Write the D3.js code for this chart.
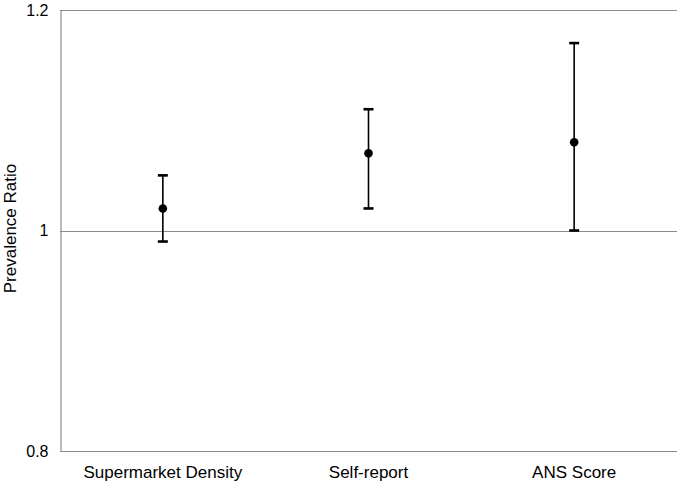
<!DOCTYPE html>
<html><head><meta charset="utf-8">
<script src="https://cdn.jsdelivr.net/npm/d3@7"></script>
<style>body{margin:0;background:#fff}svg{display:block}text{font-family:"Liberation Sans",Arial,sans-serif}</style>
</head><body><svg id="c" width="682" height="486"></svg>
<script>
const categories = ["Supermarket Density", "Self-report", "ANS Score"];
const estimates = [1.02, 1.07, 1.08];
const lowerCI = [0.99, 1.02, 1.00];
const upperCI = [1.05, 1.11, 1.17];
const yTicks = [0.8, 1, 1.2];

const svg = d3.select("#c");
const m = {left: 60, right: 5, top: 10, bottom: 35};
const W = 682, H = 486;
const x = d3.scaleBand().domain(categories).range([m.left, W - m.right]);
const y = d3.scaleLinear().domain([0.8, 1.2]).range([H - m.bottom, m.top]);

// gridlines
svg.append("g").selectAll("line").data(yTicks).join("line")
  .attr("x1", m.left).attr("x2", W - m.right)
  .attr("y1", d => Math.round(y(d)) + 0.5).attr("y2", d => Math.round(y(d)) + 0.5)
  .attr("stroke", "#8c8c8c").attr("stroke-width", 1.2);

// y axis
const ya = svg.append("g").attr("transform", `translate(${m.left + 0.5},0)`)
  .call(d3.axisLeft(y).tickValues(yTicks).tickSize(0).tickPadding(12).tickFormat(d => d3.format("")(d)));
ya.select(".domain").attr("stroke", "#8c8c8c").attr("stroke-width", 1.2);
ya.selectAll("text").attr("font-size", 16).attr("fill", "#000")
  .attr("font-family", '"Liberation Sans",Arial,sans-serif');

// x axis labels
const xa = svg.append("g").attr("transform", `translate(0,${H - m.bottom})`)
  .call(d3.axisBottom(x).tickSize(0).tickPadding(15));
xa.select(".domain").remove();
xa.selectAll("text").attr("font-size", 17).attr("fill", "#000")
  .attr("font-family", '"Liberation Sans",Arial,sans-serif');

// y title
svg.append("text").attr("transform", `translate(16,${y(1) - 2}) rotate(-90)`)
  .attr("text-anchor", "middle").attr("font-size", 17).text("Prevalence Ratio");

// error bars
const data = categories.map((c, i) => ({c, e: estimates[i], lo: lowerCI[i], hi: upperCI[i]}));
const cx = d => x(d.c) + x.bandwidth() / 2;
const g = svg.append("g");
g.selectAll("line.v").data(data).join("line").attr("class", "v")
  .attr("x1", cx).attr("x2", cx).attr("y1", d => y(d.lo)).attr("y2", d => y(d.hi))
  .attr("stroke", "#000").attr("stroke-width", 1.6);
["lo", "hi"].forEach(k => {
  g.selectAll("line.c" + k).data(data).join("line").attr("class", "c" + k)
    .attr("x1", d => cx(d) - 5).attr("x2", d => cx(d) + 5)
    .attr("y1", d => y(d[k])).attr("y2", d => y(d[k]))
    .attr("stroke", "#000").attr("stroke-width", 2.6);
});
g.selectAll("circle").data(data).join("circle")
  .attr("cx", cx).attr("cy", d => y(d.e)).attr("r", 4.3).attr("fill", "#000");
</script></body></html>
